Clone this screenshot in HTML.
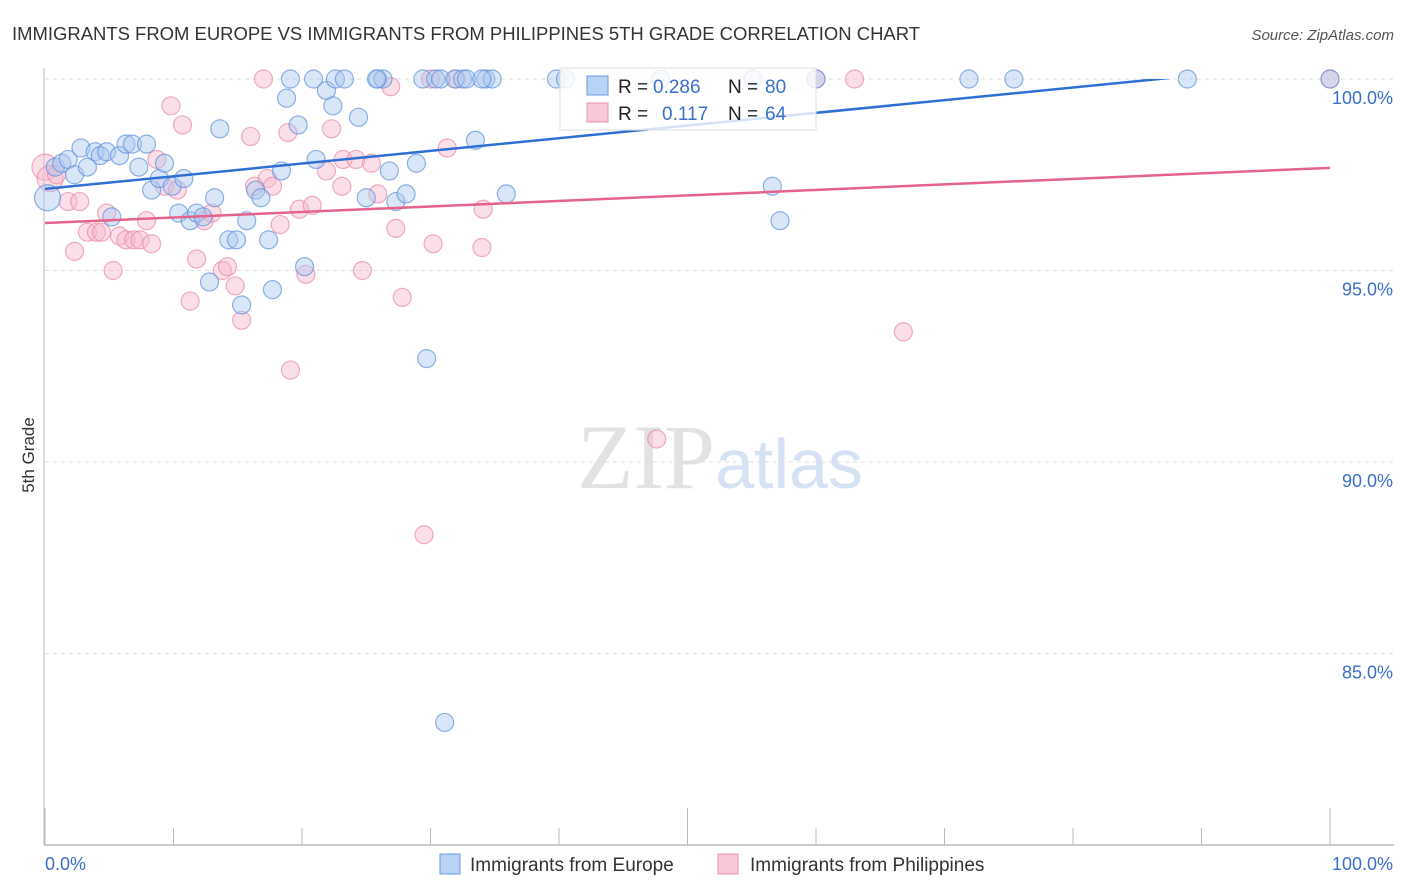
<!DOCTYPE html>
<html><head><meta charset="utf-8"><style>
body{margin:0;background:#fff;font-family:"Liberation Sans",sans-serif;}
svg{display:block}
</style></head><body>
<svg id="chart" width="1406" height="892" xmlns="http://www.w3.org/2000/svg" font-family="Liberation Sans, sans-serif">
<text x="12" y="40" font-size="18" fill="#333" textLength="908" lengthAdjust="spacingAndGlyphs">IMMIGRANTS FROM EUROPE VS IMMIGRANTS FROM PHILIPPINES 5TH GRADE CORRELATION CHART</text>
<text x="1394" y="40" font-size="15" fill="#555" text-anchor="end" font-style="italic">Source: ZipAtlas.com</text>
<text x="720" y="488" font-size="92" text-anchor="middle"><tspan fill="#e2e2e2" font-family="Liberation Serif, serif">ZIP</tspan><tspan fill="#d4e2f4" font-size="70">atlas</tspan></text>
<text transform="translate(34,455) rotate(-90)" font-size="17" fill="#333" text-anchor="middle">5th Grade</text>
<g id="grid"></g>
<g id="axes"></g>
<g id="points"></g>
<g id="trends"></g>
<g>
<rect x="560" y="68" width="256" height="62" fill="#fff" fill-opacity="0.8" stroke="#ddd"/>
<rect x="587" y="76" width="21" height="19" fill="#b8d3f5" stroke="#6b9be0"/>
<text x="618" y="93" font-size="19" fill="#222">R =</text>
<text x="653" y="93" font-size="19" fill="#3a70c9">0.286</text>
<text x="728" y="93" font-size="19" fill="#222">N =</text>
<text x="765" y="93" font-size="19" fill="#3a70c9">80</text>
<rect x="587" y="103" width="21" height="19" fill="#f9c8d6" stroke="#e890aa"/>
<text x="618" y="120" font-size="19" fill="#222">R =</text>
<text x="662" y="120" font-size="19" fill="#3a70c9">0.117</text>
<text x="728" y="120" font-size="19" fill="#222">N =</text>
<text x="765" y="120" font-size="19" fill="#3a70c9">64</text>
</g>
<g>
<rect x="440" y="854" width="20" height="20" fill="#b8d3f5" stroke="#6b9be0"/>
<text x="470" y="871" font-size="19" fill="#333">Immigrants from Europe</text>
<rect x="718" y="854" width="20" height="20" fill="#f9c8d6" stroke="#e890aa"/>
<text x="750" y="871" font-size="19" fill="#333">Immigrants from Philippines</text>
</g>
</svg>
<script>
const yTicks=[100,95,90,85];
const yTickLabels=["100.0%","95.0%","90.0%","85.0%"];
const xTicks=[0,10,20,30,40,50,60,70,80,90,100];
const xTickLabels=["0.0%","100.0%"];
const europeX=[0.2,0.8,1.3,1.8,2.3,2.8,3.3,3.9,4.3,4.8,5.2,5.8,6.3,6.8,7.3,7.9,8.3,8.9,9.3,9.9,10.4,10.8,11.3,11.8,12.3,12.8,13.2,13.6,14.3,14.9,15.3,15.7,16.4,16.8,17.4,17.7,18.4,18.8,19.1,19.7,20.2,20.9,21.1,21.9,22.4,22.6,23.3,24.4,25.0,25.9,26.3,26.8,27.3,28.1,28.9,29.4,29.7,30.4,30.8,31.1,31.9,32.5,32.8,33.5,34.3,34.8,35.9,39.8,40.5,56.6,57.2,71.9,75.4,88.9,100,47.9,55.1,60,34.0,25.8];
const europeY=[96.9,97.7,97.8,97.9,97.5,98.2,97.7,98.1,98.0,98.1,96.4,98.0,98.3,98.3,97.7,98.3,97.1,97.4,97.8,97.2,96.5,97.4,96.3,96.5,96.4,94.7,96.9,98.7,95.8,95.8,94.1,96.3,97.1,96.9,95.8,94.5,97.6,99.5,100,98.8,95.1,100,97.9,99.7,99.3,100,100,99.0,96.9,100,100,97.6,96.8,97.0,97.8,100,92.7,100,100,83.2,100,100,100,98.4,100,100,97.0,100,100,97.2,96.3,100,100,100,100,100,100,100,100,100];
const philX=[0,0.4,0.9,1.8,2.3,2.7,3.3,4.0,4.4,4.8,5.3,5.8,6.3,6.9,7.4,7.9,8.3,8.7,9.3,9.8,10.3,10.7,11.3,11.8,12.4,13.0,13.8,14.2,14.8,15.3,16.0,16.3,17.0,17.3,17.7,18.3,18.9,19.1,19.8,20.3,20.8,21.9,22.3,23.2,23.1,24.2,24.7,25.4,25.9,26.9,27.3,27.8,29.5,30,30.2,31.3,34.1,34.0,47.6,63.0,66.8,100,60,32.0];
const philY=[97.7,97.4,97.5,96.8,95.5,96.8,96.0,96.0,96.0,96.5,95.0,95.9,95.8,95.8,95.8,96.3,95.7,97.9,97.2,99.3,97.1,98.8,94.2,95.3,96.3,96.5,95.0,95.1,94.6,93.7,98.5,97.2,100,97.4,97.2,96.2,98.6,92.4,96.6,94.9,96.7,97.6,98.7,97.9,97.2,97.9,95.0,97.8,97.0,99.8,96.1,94.3,88.1,100,95.7,98.2,96.6,95.6,90.6,100,93.4,100,100,100];
const europeTrend=[97.13,100.44];
const philTrend=[96.24,97.68];
const NS="http://www.w3.org/2000/svg";
const X0=45,X1=1330,YT=79,PXPER=38.3;
const sx=v=>X0+(X1-X0)*v/100;
const sy=v=>YT+(100-v)*PXPER;
function mk(tag,attrs,parent){const e=document.createElementNS(NS,tag);for(const k in attrs)e.setAttribute(k,attrs[k]);parent.appendChild(e);return e;}
const grid=document.getElementById('grid'),axes=document.getElementById('axes');
yTicks.forEach((t,i)=>{
 const l=mk('line',{x1:X0,x2:1394,y1:sy(t),y2:sy(t),stroke:'#ddd','stroke-dasharray':'4,4'},grid);
 
 
 const tx=mk('text',{x:1393,y:sy(t)+25,'font-size':18,fill:'#3a70c9','text-anchor':'end'},axes);
 tx.textContent=yTickLabels[i];
 
 
});
const ax=mk('line',{x1:44,x2:44,y1:68,y2:845,stroke:'#bbb'},axes);


const bx=mk('line',{x1:44,x2:1394,y1:845,y2:845,stroke:'#bbb','stroke-width':1.5},axes);


xTicks.forEach(t=>{
 const long=(t===0||t===50||t===100);
 const l=mk('line',{x1:sx(t),x2:sx(t),y1:long?808:828,y2:845,stroke:'#bbb'},axes);
 
 
});
[[0,'start'],[100,'end']].forEach((p,i)=>{
 const tx=mk('text',{x:i?1393:45,y:870,'font-size':18,fill:'#3a70c9','text-anchor':p[1]},axes);
 tx.textContent=xTickLabels[i];
 
 
});
const pts=document.getElementById('points');
function drawPts(xs,ys,fill,stroke,name){
 xs.forEach((x,i)=>{
  const big=(x<0.5&&i<2);
  const c=mk('circle',{cx:sx(x),cy:sy(ys[i]),r:big?13:9,fill:fill,'fill-opacity':0.45,stroke:stroke,'stroke-opacity':0.7,'stroke-width':1.2},pts);
  
  
 });
}
drawPts(philX,philY,'#f7b8cb','#e88aa6','philippines-point');
drawPts(europeX,europeY,'#aac8f0','#5f90dc','europe-point');
const tr=document.getElementById('trends');
const cp=mk('clipPath',{id:'clp'},tr);
mk('rect',{x:X0,y:YT,width:X1-X0,height:770},cp);
const lb=mk('line',{x1:sx(0),y1:sy(europeTrend[0]),x2:sx(100),y2:sy(europeTrend[1]),stroke:'#2f6fd4','stroke-width':2.5,'clip-path':'url(#clp)'},tr);


const lp=mk('line',{x1:sx(0),y1:sy(philTrend[0]),x2:sx(100),y2:sy(philTrend[1]),stroke:'#e4628c','stroke-width':2.5},tr);


</script>
</body></html>
